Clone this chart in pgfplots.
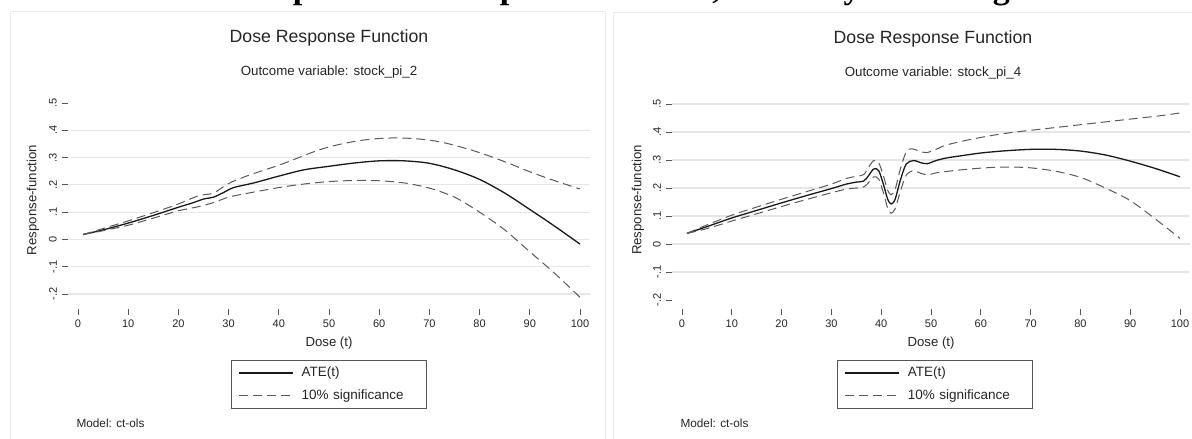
\documentclass[border=0pt]{standalone}
\usepackage{fontspec}
\setmainfont{Liberation Sans}
\newfontfamily\serifbold{Liberation Serif}
\usepackage{pgfplots}
\pgfplotsset{compat=1.18}

\definecolor{framecol}{HTML}{EBEBEB}
\definecolor{gridcol}{HTML}{E6E6E6}
\definecolor{tickcol}{HTML}{555555}
\definecolor{txtcol}{HTML}{262626}
\definecolor{bandcol}{HTML}{5A5A5A}

\pgfplotsset{
  drf/.style={
    scale only axis,
    xmin=-2, xmax=102,
    xtick={0,10,...,100},
    ytick={-0.2,-0.1,0,0.1,0.2,0.3,0.4,0.5},
    yticklabels={-.2,-.1,0,.1,.2,.3,.4,.5},
    axis lines*=left,
    axis line style={draw=none},
    tick align=outside,
    major tick length=6pt,
    tick style={color=tickcol, line width=0.9pt},
    /pgf/number format/assume math mode=true,
    xticklabel style={font=\fontsize{11}{13}\selectfont, text=txtcol, anchor=north, inner sep=0pt},
    xticklabel shift=5pt,
    yticklabel style={font=\fontsize{11}{13}\selectfont, text=txtcol, rotate=90, anchor=south, inner sep=0pt},
    yticklabel shift=5pt,
    extra y tick style={grid=major, major grid style={gridcol, line width=1.2pt}, tick style={draw=none}},
    extra y tick labels={},
    xlabel={Dose (t)},
    ylabel={Response-function},
    label style={font=\fontsize{13.2}{15}\selectfont, text=txtcol},
    legend cell align=left,
    legend image code/.code={\draw[#1] (0pt,0pt) -- (54pt,0pt);},
    legend style={draw=tickcol, line width=0.8pt, anchor=north,
      font=\fontsize{13.5}{16}\selectfont, text=txtcol,
      inner xsep=7pt, inner ysep=6pt, row sep=10pt,
      nodes={text width=118pt, inner xsep=0pt, inner ysep=0pt, text height=10pt, text depth=3pt},
      /tikz/every odd column/.append style={column sep=8pt}},
    ate/.style={color=black!90, line width=1.3pt, smooth, tension=0.5},
    band/.style={color=bandcol, line width=1pt, dash pattern=on 9pt off 5pt, smooth, tension=0.5},
  }
}

\begin{document}
\begin{tikzpicture}[x=1pt,y=1pt]
\useasboundingbox (0,0) rectangle (1192,439);
\clip (0,0) rectangle (1192,439);
\fill[white] (0,0) rectangle (1192,439);
\draw[framecol, line width=1pt] (10,-5) rectangle (605,427);
\draw[framecol, line width=1pt] (613,-5) rectangle (1205,426);

% page title, cut off at the top edge as in the source
\node[anchor=base west, inner sep=0pt, font=\serifbold\bfseries\fontsize{34}{40}\selectfont]
  at (234,440) {Graph 4: Dose response function, 2 and 4 years of lag};

% left panel
\node[font=\fontsize{17.7}{20}\selectfont, text=txtcol] at (329,401) {Dose Response Function};
\node[font=\fontsize{13.3}{15}\selectfont, text=txtcol] at (329,367) {Outcome variable: stock\_pi\_2};
\node[anchor=west, font=\fontsize{11.8}{14}\selectfont, text=txtcol] at (73,16) {Model: ct-ols};

\begin{axis}[drf,
  at={(68pt,130pt)}, anchor=south west,
  width=522pt, height=206pt,
  ymin=-0.255, ymax=0.5,
  extra y ticks={-0.2,-0.1,0,0.1,0.2,0.3,0.4},
  xlabel style={at={(axis description cs:0.5,-0.165)}, anchor=center},
  ylabel style={at={(axis description cs:-0.067,0.529)}, anchor=center},
  legend style={at={(axis description cs:0.5,-0.2476)}},
]
\addplot[ate] coordinates {
  (1,0.018) (5,0.035) (10,0.060) (15,0.088) (20,0.118) (23,0.135) (25,0.148)
  (27,0.155) (29,0.172) (31,0.190) (35,0.207) (40,0.232) (45,0.255) (50,0.268)
  (55,0.280) (60,0.288) (65,0.288) (70,0.279) (75,0.255) (80,0.220) (85,0.170)
  (90,0.110) (95,0.048) (100,-0.017)
};
\addlegendentry{ATE(t)}
\addplot[band] coordinates {
  (1,0.018) (5,0.040) (10,0.068) (15,0.098) (20,0.130) (24,0.160) (27,0.170)
  (30,0.205) (34,0.235) (40,0.272) (44,0.300) (48,0.328) (52,0.348) (56,0.362)
  (60,0.370) (64,0.372) (68,0.368) (72,0.358) (76,0.340) (80,0.318) (85,0.285)
  (90,0.248) (95,0.215) (100,0.185)
};
\addlegendentry{10\% significance}
\addplot[band, forget plot] coordinates {
  (1,0.018) (5,0.032) (10,0.052) (15,0.078) (20,0.105) (24,0.120) (27,0.135)
  (30,0.155) (34,0.170) (40,0.190) (45,0.203) (50,0.212) (55,0.216) (60,0.215)
  (65,0.207) (70,0.188) (75,0.155) (80,0.100) (85,0.035) (90,-0.045)
  (95,-0.125) (100,-0.212)
};
\end{axis}

% right panel
\node[font=\fontsize{17.7}{20}\selectfont, text=txtcol] at (933,400) {Dose Response Function};
\node[font=\fontsize{13.3}{15}\selectfont, text=txtcol] at (933,366) {Outcome variable: stock\_pi\_4};
\node[anchor=west, font=\fontsize{11.8}{14}\selectfont, text=txtcol] at (677,16) {Model: ct-ols};

\begin{axis}[drf,
  at={(672pt,130pt)}, anchor=south west,
  width=518pt, height=210.6pt,
  ymin=-0.232, ymax=0.52,
  extra y ticks={-0.1,0,0.1,0.2,0.3,0.4,0.5},
  xlabel style={at={(axis description cs:0.5,-0.1614)}, anchor=center},
  ylabel style={at={(axis description cs:-0.0656,0.518)}, anchor=center},
  legend style={at={(axis description cs:0.508,-0.2422)}},
]
\addplot[ate] coordinates {
  (1,0.038) (5,0.062) (10,0.093) (15,0.120) (20,0.147) (25,0.173) (30,0.198)
  (33,0.214) (35,0.221) (36.5,0.225) (37.5,0.245) (38.5,0.268) (39.5,0.262)
  (40.5,0.210) (41.3,0.160) (42,0.143) (42.8,0.160) (43.8,0.225) (45,0.285)
  (46.5,0.298) (48,0.290) (49.3,0.287) (51,0.298) (53,0.307) (56,0.315)
  (60,0.325) (65,0.333) (70,0.338) (75,0.338) (80,0.332) (85,0.318)
  (90,0.296) (95,0.270) (100,0.240)
};
\addlegendentry{ATE(t)}
\addplot[band] coordinates {
  (1,0.038) (5,0.068) (10,0.103) (15,0.132) (20,0.160) (25,0.187) (30,0.214)
  (33,0.234) (35,0.242) (36.5,0.248) (37.5,0.275) (38.5,0.298) (39.5,0.290)
  (40.5,0.240) (41.3,0.192) (42,0.176) (42.8,0.195) (43.8,0.265) (45,0.328)
  (46,0.340) (47.5,0.333) (49,0.326) (51,0.338) (53,0.353) (57,0.370)
  (62,0.387) (67,0.400) (72,0.410) (77,0.420) (82,0.430) (87,0.440)
  (92,0.450) (96,0.458) (100,0.468)
};
\addlegendentry{10\% significance}
\addplot[band, forget plot] coordinates {
  (1,0.038) (5,0.055) (10,0.082) (15,0.108) (20,0.134) (25,0.159) (30,0.183)
  (33,0.196) (35,0.200) (36.5,0.204) (37.5,0.220) (38.5,0.240) (39.5,0.232)
  (40.5,0.180) (41.3,0.128) (42,0.110) (42.8,0.126) (43.8,0.185) (45,0.245)
  (46.5,0.262) (48,0.252) (49.5,0.247) (51,0.254) (55,0.263) (60,0.271)
  (65,0.275) (70,0.272) (75,0.260) (80,0.238) (85,0.200) (90,0.155)
  (95,0.090) (100,0.020)
};
\end{axis}
\end{tikzpicture}
\end{document}
